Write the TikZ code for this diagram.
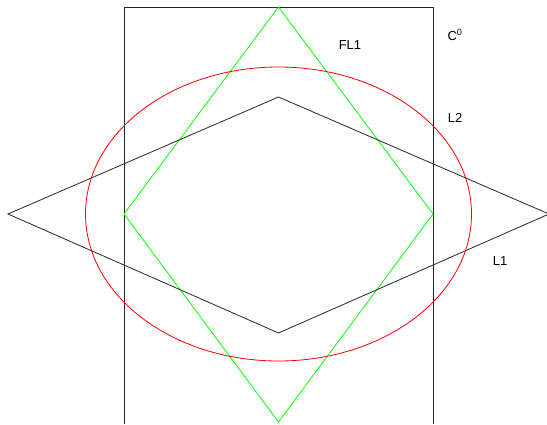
\documentclass[tikz,border=0pt]{standalone}
\usepackage{fontspec}
\setmainfont{Liberation Sans}
\tikzset{lbl/.style={font=\fontsize{13}{15}\selectfont, inner sep=0pt}}

\begin{document}
\begin{tikzpicture}[x=1pt,y=-1pt]
			\useasboundingbox (0,0) rectangle (547,424);
			% bounds
			\coordinate (c0bl) at (124,424);
			\coordinate (c0tl) at (124,7);
			\coordinate (c0tr) at (433,7);
			\coordinate (c0br) at (433,424);
			\draw[line width=0.9pt, color=black!85] (c0bl) -- (c0tl) -- (c0tr) -- (c0br);
			% green diamond
			\coordinate (fn) at (278.5,7);
			\coordinate (fw) at (124,214);
			\coordinate (fe) at (433,214);
			\coordinate (fs) at (278.5,422);
			\draw[color=green, line width=0.8pt] (fn) -- (fe) -- (fs) -- (fw) -- cycle;
			% black diamond
			\coordinate (ln) at (278.5,97);
			\coordinate (lw) at (8,214);
			\coordinate (le) at (549,214);
			\coordinate (ls) at (278.5,333);
			\draw[color=black!85, line width=0.8pt] (ln) -- (le) -- (ls) -- (lw) -- cycle;
			% red ellipse
			\coordinate (ctr) at (278.5,214);
			\draw[color=red, line width=0.8pt] (ctr) ellipse[x radius=193, y radius=147];
			% labels
			\node[lbl] (fl1) at (350,45) {FL1};
			\node[lbl] (c0) at (455,35) {C\textsuperscript{0}};
			\node[lbl] (l2) at (455,118) {L2};
			\node[lbl] (l1) at (500,261) {L1};
		\end{tikzpicture}
\end{document}
